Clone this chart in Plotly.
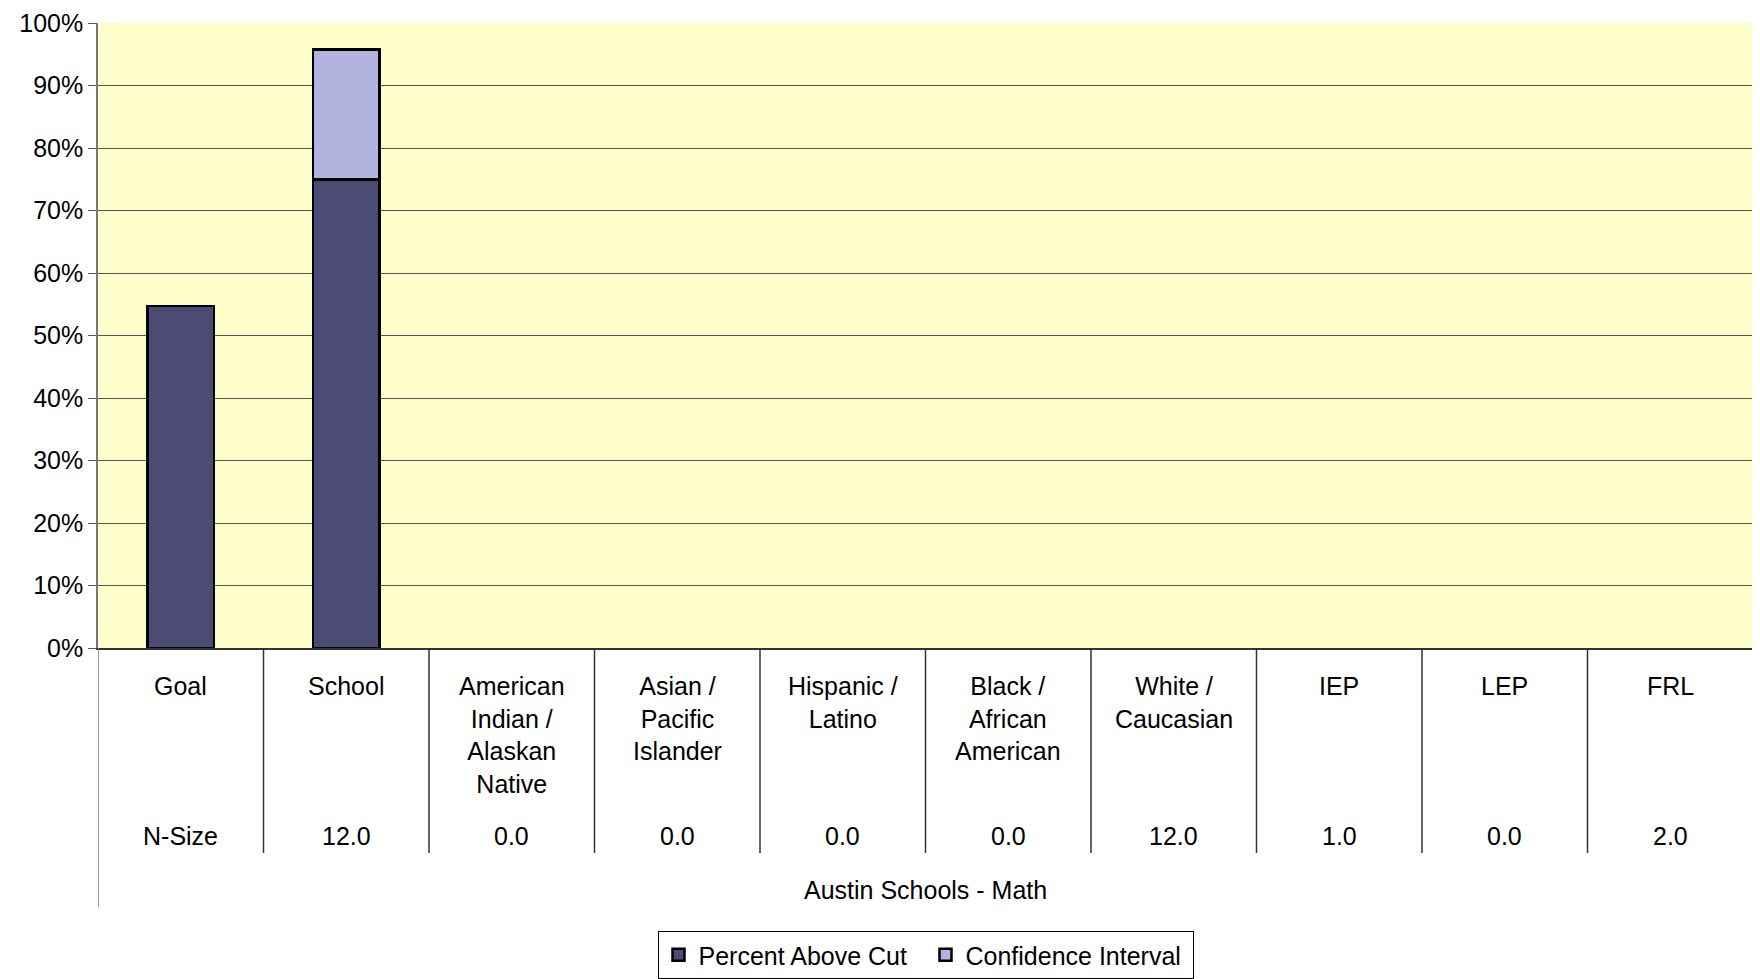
import plotly.graph_objects as go

categories = ["Goal", "School", "American<br>Indian /<br>Alaskan<br>Native", "Asian /<br>Pacific<br>Islander",
              "Hispanic /<br>Latino", "Black /<br>African<br>American", "White /<br>Caucasian", "IEP", "LEP", "FRL"]
cat_keys = ["Goal", "School", "AIAN", "API", "HL", "BAA", "WC", "IEP", "LEP", "FRL"]
percent_above_cut = [54.7, 75.0, None, None, None, None, None, None, None, None]
confidence_interval = [None, 20.8, None, None, None, None, None, None, None, None]
n_size = ["N-Size", "12.0", "0.0", "0.0", "0.0", "0.0", "12.0", "1.0", "0.0", "2.0"]
y_ticks = [0, 10, 20, 30, 40, 50, 60, 70, 80, 90, 100]
x_title = "Austin Schools - Math"

FONT = "Liberation Sans, Arial, sans-serif"
FS = 25

OFF = 8  # default page body margin
W, H = 1760 - OFF, 979 - OFF
ML, MR, MT, MB = 98 - OFF, 7, 15, 331
PH = H - MT - MB


def py(pix):
    """convert page pixel y (from top) to paper coordinate"""
    return (H - MB - (pix - OFF)) / PH


fig = go.Figure()
fig.add_trace(go.Bar(
    x=cat_keys, y=percent_above_cut, name="Percent Above Cut",
    marker=dict(color="#4b4b74", line=dict(color="black", width=2.5)),
))
fig.add_trace(go.Bar(
    x=cat_keys, y=confidence_interval, name="Confidence Interval",
    marker=dict(color="#b3b3e0", line=dict(color="black", width=2.5)),
))

shapes = []
n = len(cat_keys)
for i in range(n + 1):
    edge = i == 0 or i == n
    shapes.append(dict(type="line", xref="x", yref="paper", x0=i - 0.5, x1=i - 0.5,
                       y0=0, y1=py(907 if edge else 853),
                       line=dict(color="#333333" if not edge else "#777777", width=1.5)))
fig.update_layout(shapes=shapes)

annotations = []
for k, lab, ns in zip(cat_keys, categories, n_size):
    annotations.append(dict(x=k, xref="x", y=py(670), yref="paper", yanchor="top",
                            text=lab, showarrow=False, align="center",
                            font=dict(family=FONT, size=FS, color="black")))
    annotations.append(dict(x=k, xref="x", y=py(836), yref="paper", yanchor="middle",
                            text=ns, showarrow=False,
                            font=dict(family=FONT, size=FS, color="black")))
annotations.append(dict(x=0.5, xref="paper", y=py(890), yref="paper", yanchor="middle",
                        text=x_title, showarrow=False,
                        font=dict(family=FONT, size=FS, color="black")))
fig.update_layout(annotations=annotations)

fig.update_layout(
    width=W, height=H,
    margin=dict(l=ML, r=MR, t=MT, b=MB, autoexpand=False),
    paper_bgcolor="white", plot_bgcolor="#ffffcc",
    barmode="stack", bargap=0.6,
    font=dict(family=FONT, size=FS, color="black"),
    showlegend=True,
    legend=dict(orientation="h", x=0.5, xanchor="center", y=py(955), yanchor="middle",
                bordercolor="black", borderwidth=1, bgcolor="white",
                font=dict(family=FONT, size=FS, color="black"), itemwidth=30,
                entrywidth=222, entrywidthmode="pixels",
                traceorder="normal"),
    xaxis=dict(type="category", categoryorder="array", categoryarray=cat_keys,
               showticklabels=False, showgrid=False, showline=True, linecolor="#333333",
               linewidth=1.5, ticks="", range=[-0.5, n - 0.5], zeroline=False,
               automargin=False),
    yaxis=dict(range=[0, 100], tickvals=y_ticks, ticktext=[f"{v}%" for v in y_ticks],
               showgrid=True, gridcolor="#555555", gridwidth=1,
               showline=True, linecolor="#777777", linewidth=1.5,
               ticks="outside", ticklen=8, tickcolor="#555555", zeroline=False,
               automargin=False, ticklabeloverflow="allow",
               tickfont=dict(family=FONT, size=FS, color="black")),
)

fig.write_html("out.html")
